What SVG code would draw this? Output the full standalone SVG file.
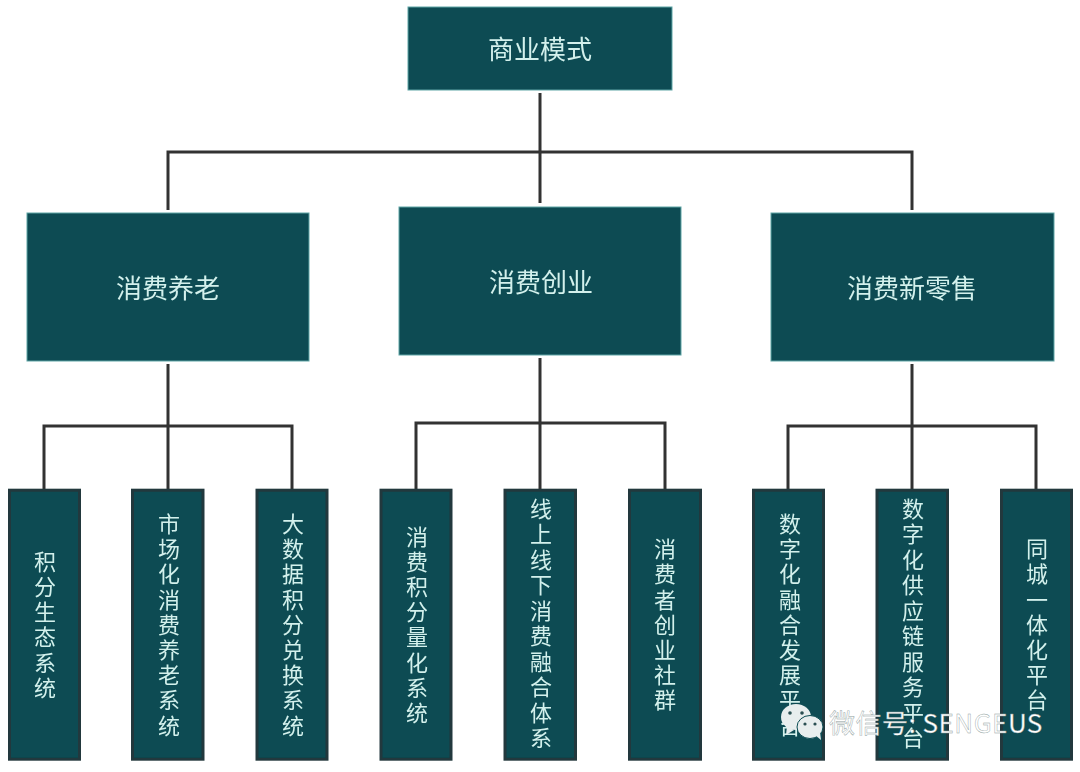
<svg xmlns="http://www.w3.org/2000/svg" width="1080" height="772" viewBox="0 0 1080 772">
<style>
text{font-family:"Noto Sans CJK SC","Noto Sans",sans-serif;fill:#d3f0ec;text-anchor:middle}
.top{fill:#0a4b52;stroke:#5fa5a5;stroke-width:1}
.leaf{fill:#0a4b52;stroke:#23393c;stroke-width:3}
.t1{font-size:26px}
.t2{font-size:22px;writing-mode:vertical-rl;text-orientation:upright;letter-spacing:3.2px}
.t3{font-size:22px;writing-mode:vertical-rl;text-orientation:upright;letter-spacing:3.5px}
.wm{font-size:26px;fill:#fff;stroke:#8a9a9a;stroke-width:.4;text-anchor:start;letter-spacing:.5px}
#connectors path{fill:none;stroke:#333;stroke-width:3}
</style>
<defs><filter id="soft" x="-5%" y="-5%" width="110%" height="110%"><feGaussianBlur stdDeviation="0.5"/></filter></defs>
<rect width="1080" height="772" fill="#fff"/>
<g filter="url(#soft)">
<g id="connectors">
<path d="M540 93V203M168 210V152H912V210"/>
<path d="M168 364V489M44 489V426H292V489"/>
<path d="M540 358V489M416 489V423H665V489"/>
<path d="M912 364V489M788 489V426H1036V489"/>
</g>
<g id="root"><rect class="top" x="408" y="7" width="264" height="83"/><text class="t1" x="540" y="59">商业模式</text></g>
<g id="n1"><rect class="top" x="27" y="213" width="282" height="148"/><text class="t1" x="168" y="298">消费养老</text></g>
<g id="n2"><rect class="top" x="399" y="207" width="282" height="148"/><text class="t1" x="541" y="292">消费创业</text></g>
<g id="n3"><rect class="top" x="771" y="213" width="283" height="148"/><text class="t1" x="912" y="298">消费新零售</text></g>
<g id="l1"><rect class="leaf" x="9.5" y="490.2" width="70" height="269"/><text class="t2" x="45" y="626">积分生态系统</text></g>
<g id="l2"><rect class="leaf" x="132.5" y="490.2" width="70.5" height="269"/><text class="t2" x="169" y="626">市场化消费养老系统</text></g>
<g id="l3"><rect class="leaf" x="257" y="490.2" width="70" height="269"/><text class="t2" x="293" y="626">大数据积分兑换系统</text></g>
<g id="l4"><rect class="leaf" x="381" y="490.2" width="70" height="269"/><text class="t2" x="417" y="626">消费积分量化系统</text></g>
<g id="l5"><rect class="leaf" x="505" y="490.2" width="70.5" height="269"/><text class="t3" x="541" y="625">线上线下消费融合体系</text></g>
<g id="l6"><rect class="leaf" x="629.5" y="490.2" width="71" height="269"/><text class="t2" x="665" y="626">消费者创业社群</text></g>
<g id="l7"><rect class="leaf" x="753.5" y="490.2" width="70" height="269"/><text class="t2" x="790" y="626">数字化融合发展平台</text></g>
<g id="l8"><rect class="leaf" x="877" y="490.2" width="70.5" height="269"/><text class="t3" x="913" y="625">数字化供应链服务平台</text></g>
<g id="l9"><rect class="leaf" x="1001.5" y="490.2" width="70" height="269"/><text class="t2" x="1037" y="626">同城一体化平台</text></g>
</g>
<g id="watermark">
<ellipse cx="796" cy="717" rx="15" ry="13" fill="#e8eeee"/>
<path d="M787 726l-1 9 8-5z" fill="#e8eeee"/>
<circle cx="790" cy="713" r="1.8" fill="#2a4f52"/><circle cx="802" cy="713" r="1.8" fill="#2a4f52"/>
<ellipse cx="810" cy="727" rx="13" ry="11.5" fill="#e8eeee" stroke="#0a4b52"/>
<path d="M815 735l6 5-1-8z" fill="#e8eeee"/>
<circle cx="805" cy="724" r="1.6" fill="#2a4f52"/><circle cx="815" cy="724" r="1.6" fill="#2a4f52"/>
<text class="wm" x="829" y="733">微信号: SENGEUS</text>
</g>
</svg>
